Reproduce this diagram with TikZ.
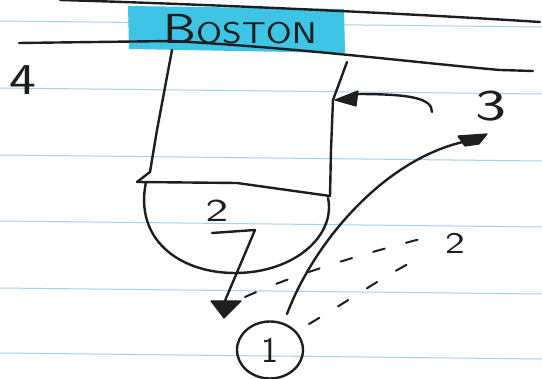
\documentclass[tikz,border=0pt]{standalone}
\usetikzlibrary{shapes.geometric}
\definecolor{ruled}{HTML}{A3CFF0}
\definecolor{hilite}{HTML}{3EC4E4}
\definecolor{inkc}{HTML}{1E1E1E}
\begin{document}
\begin{tikzpicture}[x=1pt,y=-1pt,line cap=round,line join=round,
  ink/.style={draw=inkc,line width=2.4pt},
  passline/.style={draw=inkc,line width=2pt,dash pattern=on 12pt off 22pt},
  hand/.style={font=\sffamily\fontsize{#1}{#1}\selectfont,inner sep=0pt,text=inkc},
  rulel/.style={draw=ruled,line width=1pt},
  tip/.style={fill=inkc,draw=inkc,line width=1.2pt}]
\useasboundingbox[fill=white] (0,0) rectangle (542,379);
% ruled paper
\foreach \y in {21,88,155,221,288,353} \draw[rulel] (0,\y) -- (542,\y+6);
% highlight and sidelines
\fill[hilite] (128,6) -- (344,9) -- (345,53) -- (129,49) -- cycle;
\draw[ink] (60,0) .. controls (200,4) and (400,13) .. (540,22);
\draw[ink] (19,43) -- (172,41) .. controls (300,48) and (420,63) .. (500,70) -- (533,71);
\node[hand=30,xscale=1.25] (boston) at (240,29) {{\fontsize{42}{42}\selectfont B}OSTON};
% lane
\coordinate (ltop) at (172,50);
\coordinate (lbot) at (137,182);
\coordinate (rtop) at (347,62);
\coordinate (rbot) at (330,196);
\draw[ink] (ltop) -- (157,130) -- (150,172) -- (lbot) -- (237,183) -- (rbot) -- (331,150) -- (333,100) -- (rtop);
\draw[ink] (146,182) .. controls (134,240) and (180,273) .. (235,273) .. controls (295,273) and (336,235) .. (328,198);
% labels
\node[hand=44,xscale=1.3] (l4) at (23,80) {4};
\node[hand=44,xscale=1.5] (l3) at (491,106) {3};
\node[hand=32,xscale=1.5] (l2a) at (217,211) {2};
\node[hand=30,xscale=1.4] (l2b) at (455,243) {2};
\node[ink,ellipse,minimum width=66pt,minimum height=57pt,inner sep=0pt,hand=36] (p1) at (270,350) {1};
% player 2 cut with screen tip
\coordinate (c2s) at (212,233);
\coordinate (c2e) at (224,303);
\draw[ink] (c2s) -- (255,230) -- (c2e);
\draw[tip] (211,301) -- (241,301) -- (224,318) -- cycle;
% player 3 move to lane
\coordinate (c3s) at (432,112);
\coordinate (c3e) at (356,94);
\draw[ink] (c3s) .. controls (432,98) and (410,94) .. (c3e);
\draw[tip] (335,100) -- (358,91) -- (356,106) -- cycle;
% player 1 curl to wing
\coordinate (c1s) at (287,314);
\coordinate (c1e) at (463,142);
\draw[ink] (c1s) .. controls (315,240) and (385,160) .. (c1e);
\draw[tip] (458,136) -- (487,134) -- (479,144) -- (465,146) -- cycle;
% passes (dashed)
\coordinate (pa) at (245,297);
\coordinate (pb) at (428,237);
\coordinate (pc) at (309,324);
\coordinate (pd) at (420,258);
\draw[passline] (pa) .. controls (300,272) and (370,252) .. (pb);
\draw[passline] (pc) .. controls (350,300) and (390,272) .. (pd);
\end{tikzpicture}
\end{document}
